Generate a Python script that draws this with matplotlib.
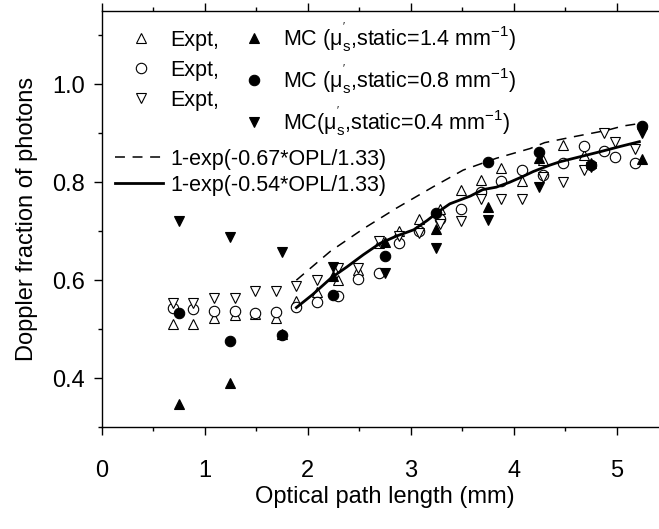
import matplotlib
matplotlib.use("Agg")
import matplotlib.pyplot as plt
from matplotlib.ticker import MultipleLocator

plt.rcParams['font.family'] = ['Liberation Sans', 'DejaVu Sans']
plt.rcParams['mathtext.fontset'] = 'custom'
plt.rcParams['mathtext.rm'] = 'Liberation Sans'
plt.rcParams['mathtext.it'] = 'Liberation Sans'
plt.rcParams['mathtext.default'] = 'regular'

# ---- data ----
x_expt = [0.69, 0.89, 1.09, 1.29, 1.49, 1.69, 1.89, 2.09, 2.29, 2.49, 2.69, 2.89,
          3.08, 3.28, 3.49, 3.68, 3.88, 4.08, 4.28, 4.48, 4.68]
expt_14 = [0.51, 0.51, 0.522, 0.528, 0.53, 0.522, 0.558, 0.575, 0.60, 0.62, 0.675, 0.70,
           0.725, 0.745, 0.785, 0.805, 0.829, 0.803, 0.846, 0.876, 0.856]

x_expt_long = [0.69, 0.89, 1.09, 1.29, 1.49, 1.69, 1.89, 2.09, 2.29, 2.49, 2.69, 2.89,
               3.08, 3.28, 3.49, 3.68, 3.88, 4.08, 4.28, 4.48, 4.68, 4.88, 4.98, 5.18]
expt_08 = [0.544, 0.541, 0.536, 0.536, 0.532, 0.534, 0.546, 0.556, 0.568, 0.603, 0.615, 0.675,
           0.70, 0.724, 0.746, 0.781, 0.803, 0.825, 0.815, 0.839, 0.874, 0.864, 0.851, 0.839]
expt_04 = [0.553, 0.553, 0.564, 0.564, 0.578, 0.578, 0.589, 0.60, 0.625, 0.625, 0.68, 0.69,
           0.697, 0.715, 0.72, 0.766, 0.766, 0.766, 0.81, 0.80, 0.825, 0.90, 0.883, 0.869]

x_mc = [0.75, 1.25, 1.75, 2.25, 2.75, 3.25, 3.75, 4.25, 4.75, 5.25]
mc_14 = [0.348, 0.39, 0.49, 0.608, 0.677, 0.705, 0.749, 0.849, 0.84, 0.847]
mc_08 = [0.533, 0.476, 0.488, 0.569, 0.649, 0.738, 0.842, 0.862, 0.835, 0.915]
mc_04 = [0.72, 0.688, 0.657, 0.627, 0.615, 0.666, 0.722, 0.79, 0.832, 0.90]

fit067_x = [1.89, 2.22, 2.54, 2.86, 3.22, 3.51, 3.83, 4.16, 4.30, 4.58, 4.90, 5.06, 5.22]
fit067_y = [0.60, 0.659, 0.705, 0.747, 0.791, 0.825, 0.849, 0.869, 0.881, 0.893, 0.906, 0.915, 0.92]
fit054_x = [1.89, 2.05, 2.23, 2.38, 2.54, 2.70, 2.86, 3.03, 3.16, 3.27, 3.38, 3.58, 3.70,
            3.83, 3.96, 4.09, 4.19, 4.35, 4.45, 4.64, 4.83, 5.03, 5.22]
fit054_y = [0.544, 0.571, 0.605, 0.627, 0.652, 0.675, 0.69, 0.703, 0.722, 0.74, 0.756, 0.772,
            0.785, 0.79, 0.80, 0.812, 0.822, 0.835, 0.842, 0.852, 0.862, 0.873, 0.883]

lbl_mc14 = "MC (μ$_{s}^{'}$,static=1.4 mm$^{-1}$)"
lbl_mc08 = "MC (μ$_{s}^{'}$,static=0.8 mm$^{-1}$)"
lbl_mc04 = "MC(μ$_{s}^{'}$,static=0.4 mm$^{-1}$)"
lbl_fit067 = "1-exp(-0.67*OPL/1.33)"
lbl_fit054 = "1-exp(-0.54*OPL/1.33)"

# ---- figure ----
W, H = 659, 529
fig = plt.figure(figsize=(W / 100, H / 100), dpi=100)
ax = fig.add_axes([101.7 / W, (H - 427) / H, 566.5 / W, 416 / H])

ms = 7.5
mew = 0.8
open_kw = dict(linestyle='none', markerfacecolor='white', markeredgecolor='black',
               markersize=ms, markeredgewidth=mew, zorder=2)
fill_kw = dict(linestyle='none', color='black', markersize=ms, markeredgewidth=mew, zorder=3)

h_e14, = ax.plot(x_expt, expt_14, marker='^', **open_kw)
h_e08, = ax.plot(x_expt_long, expt_08, marker='o', **open_kw)
h_e04, = ax.plot(x_expt_long, expt_04, marker='v', **open_kw)
h_m14, = ax.plot(x_mc, mc_14, marker='^', **fill_kw)
h_m08, = ax.plot(x_mc, mc_08, marker='o', **fill_kw)
h_m04, = ax.plot(x_mc, mc_04, marker='v', **fill_kw)

h_f67, = ax.plot(fit067_x, fit067_y, color='black', lw=1.1, linestyle=(0, (6.5, 5)), zorder=4)
h_f54, = ax.plot(fit054_x, fit054_y, color='black', lw=2.0, zorder=4)

ax.set_xlim(0, 5.5)
ax.set_ylim(0.3, 1.15)
ax.xaxis.set_minor_locator(MultipleLocator(0.5))
ax.yaxis.set_minor_locator(MultipleLocator(0.1))
ax.set_yticks([0.4, 0.6, 0.8, 1.0])
ax.set_yticklabels(['0.4', '0.6', '0.8', '1.0'])
ax.set_xticks([0, 1, 2, 3, 4, 5])
ax.set_xticklabels(['0', '1', '2', '3', '4', '5'])

for s in ax.spines.values():
    s.set_linewidth(1.0)
ax.spines['right'].set_visible(False)

ax.tick_params(axis='both', which='major', direction='out', length=6, width=1.0,
               labelsize=17, pad=6)
ax.tick_params(axis='both', which='minor', direction='out', length=3, width=1.0)
ax.tick_params(axis='x', which='major', pad=18)
ax.tick_params(axis='x', which='both', top=True)

ax.set_xlabel('Optical path length (mm)', fontsize=17, labelpad=3)
ax.set_ylabel('Doppler fraction of photons', fontsize=17, labelpad=10)

fs = 15.5
leg1 = ax.legend([h_e14, h_e08, h_e04, h_m14, h_m08, h_m04],
                 ['Expt,', 'Expt,', 'Expt,', lbl_mc14, lbl_mc08, lbl_mc04],
                 ncol=2, frameon=False, fontsize=fs, loc='upper left',
                 bbox_to_anchor=(0.035, 0.975), handlelength=1.8, handletextpad=0.45,
                 columnspacing=0.75, labelspacing=0.42, borderaxespad=0.0,
                 borderpad=0.0)
ax.add_artist(leg1)
leg2 = ax.legend([h_f67, h_f54], [lbl_fit067, lbl_fit054], frameon=False, fontsize=fs,
                 loc='upper left', bbox_to_anchor=(0.023, 0.669), handlelength=2.25,
                 handletextpad=0.35, labelspacing=0.24, borderaxespad=0.0, borderpad=0.0)

fig.savefig('out.png', dpi=100)
